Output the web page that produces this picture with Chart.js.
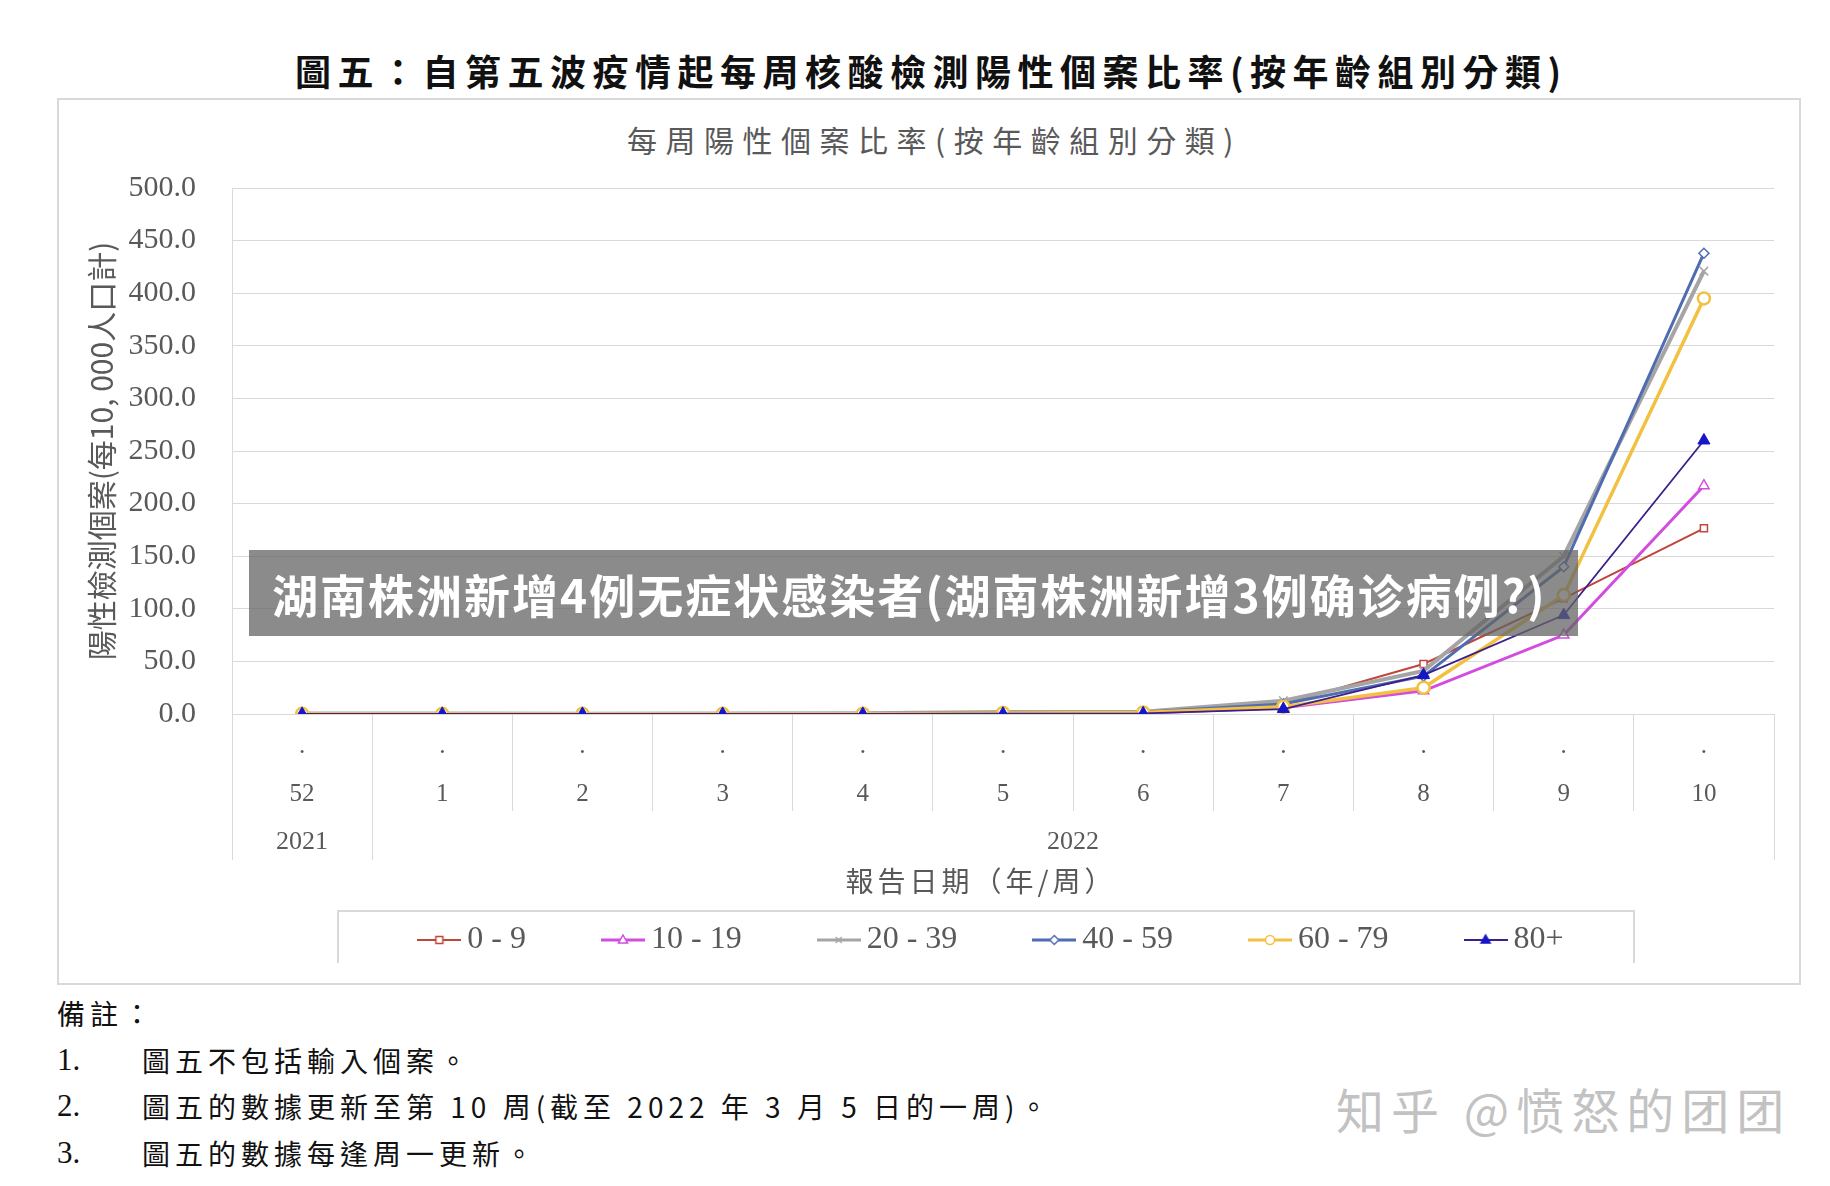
<!DOCTYPE html>
<html>
<head>
<meta charset="utf-8">
<script src="https://cdn.jsdelivr.net/npm/chart.js@4.4.1/dist/chart.umd.min.js"></script>
<style>
  body { margin: 0; background: #fff; }
  #page { position: relative; width: 1830px; height: 1186px; overflow: hidden; font-family: "Noto Sans CJK TC", sans-serif; }
  #mainTitle { position: absolute; left: 295px; top: 46px; font-size: 36px; line-height: 48px; font-weight: 700; letter-spacing: 6.5px; color: #111; white-space: nowrap; }
  #box { position: absolute; left: 57px; top: 98px; width: 1744px; height: 887px; border: 2px solid #d9d9d9; box-sizing: border-box; }
  #innerTitle { position: absolute; left: 627px; top: 120px; font-size: 30px; line-height: 38px; letter-spacing: 8.5px; color: #595959; white-space: nowrap; }
  #wrap { position: absolute; left: 57px; top: 98px; width: 1744px; height: 865px; }
  .note { position: absolute; font-size: 28px; line-height: 36px; color: #111; white-space: nowrap; letter-spacing: 5px; }
  .num { position: absolute; left: 57px; font-family: "Liberation Serif", serif; font-size: 31px; line-height: 36px; color: #111; }
  #banner { position: absolute; left: 249px; top: 550px; width: 1329px; height: 86px; background: rgba(100,100,100,0.75);
    color: #fff; font-family: "Noto Sans CJK SC", sans-serif; font-weight: 700; font-size: 46px; line-height: 86px;
    letter-spacing: 2px; padding-left: 23px; box-sizing: border-box; white-space: nowrap; z-index: 5; }
  #mark { position: absolute; left: 1336px; top: 1079px; font-family: "Noto Sans CJK SC", sans-serif; font-size: 48px; line-height: 58px;
    letter-spacing: 7px; color: #c2c2c2; white-space: nowrap; }
</style>
</head>
<body>
<div id="page">
  <div id="mainTitle">圖五：自第五波疫情起每周核酸檢測陽性個案比率(按年齡組別分類)</div>
  <div id="box"></div>
  <div id="innerTitle">每周陽性個案比率(按年齡組別分類)</div>
  <div id="wrap"><canvas id="chart"></canvas></div>
  <div class="note" style="left:57px;top:995px;">備註：</div>
  <div class="num" style="top:1042px;">1.</div>
  <div class="note" style="left:142px;top:1042px;">圖五不包括輸入個案。</div>
  <div class="num" style="top:1088px;">2.</div>
  <div class="note" style="left:142px;top:1088px;">圖五的數據更新至第 10 周(截至 2022 年 3 月 5 日的一周)。</div>
  <div class="num" style="top:1135px;">3.</div>
  <div class="note" style="left:142px;top:1135px;">圖五的數據每逢周一更新。</div>
  <div id="banner">湖南株洲新增4例无症状感染者(湖南株洲新增3例确诊病例?)</div>
  <div id="mark">知乎 @愤怒的团团</div>
</div>
<script>
// report weeks (2021 wk 52, then 2022 wk 1-10)
const weeks = ['52', '1', '2', '3', '4', '5', '6', '7', '8', '9', '10'];
const yearLabels = ['2021', '2022'];
const yearFirst = [0, 1];
const yearLast = [0, 10];

const age0to9   = [0.2, 0.2, 0.1, 0.1, 0.2, 0.5, 1.0, 9.5, 47.5, 110, 176.5];
const age10to19 = [0.2, 0.2, 0.1, 0.1, 0.1, 0.4, 0.8, 6.0, 22, 75, 217];
const age20to39 = [0.5, 0.4, 0.3, 0.4, 0.6, 1.8, 2.2, 12.6, 41, 150, 421];
const age40to59 = [0.3, 0.3, 0.2, 0.3, 0.4, 1.2, 1.6, 9.5, 36, 140, 438];
const age60to79 = [0.2, 0.2, 0.2, 0.2, 0.3, 1.0, 1.5, 7.0, 25, 113, 395];
const age80up   = [0.1, 0.1, 0.1, 0.1, 0.1, 0.3, 0.6, 4.7, 37, 94, 260];

const seriesNames = ['0 - 9', '10 - 19', '20 - 39', '40 - 59', '60 - 79', '80+'];
const yMin = 0, yMax = 500, yStep = 50;
const yTitle = '陽性檢測個案(每10, 000人口計)';
const xTitle = '報告日期（年/周）';

Chart.defaults.font.family = '"Liberation Serif", serif';

function makeIcon(color, lineW, marker, fill, markColor) {
  const c = document.createElement('canvas');
  c.width = 44; c.height = 20;
  const g = c.getContext('2d');
  g.strokeStyle = color; g.lineWidth = lineW;
  g.beginPath(); g.moveTo(0, 10); g.lineTo(44, 10); g.stroke();
  g.strokeStyle = markColor || color; g.fillStyle = fill; g.lineWidth = 1.5;
  g.beginPath();
  if (marker === 'rect') g.rect(18.5, 6.5, 7, 7);
  if (marker === 'triangle') { g.moveTo(22, 5); g.lineTo(26.5, 13); g.lineTo(17.5, 13); g.closePath(); }
  if (marker === 'crossRot') { g.moveTo(19, 7); g.lineTo(25, 13); g.moveTo(25, 7); g.lineTo(19, 13); }
  if (marker === 'rectRot') { g.moveTo(22, 5.5); g.lineTo(26.5, 10); g.lineTo(22, 14.5); g.lineTo(17.5, 10); g.closePath(); }
  if (marker === 'circle') g.arc(22, 10, 4.5, 0, Math.PI * 2);
  if (marker !== 'crossRot') g.fill();
  g.stroke();
  return c;
}

const styles = [
  { color: '#c0463c', width: 2,   marker: 'rect',     radius: 5, fill: '#fff', pw: 1.5, order: 6 },
  { color: '#d24ce0', width: 3,   marker: 'triangle', radius: 6, fill: '#fff', pw: 1.5, order: 5 },
  { color: '#a5a5a5', width: 4,   marker: 'crossRot', radius: 6, fill: '#a5a5a5', pw: 1.5, order: 4 },
  { color: '#4f6db0', width: 3,   marker: 'rectRot',  radius: 5, fill: '#fff', pw: 1.5, order: 3 },
  { color: '#f3c141', width: 3.5, marker: 'circle',   radius: 6, fill: '#fff', pw: 2.5, order: 2 },
  { color: '#3c1e8c', width: 1.8, marker: 'triangle', radius: 7, fill: '#1616c8', pw: 1, order: 1, mark: '#1616c8' },
];
const seriesData = [age0to9, age10to19, age20to39, age40to59, age60to79, age80up];
const icons = styles.map(s => makeIcon(s.color, Math.min(s.width, 3), s.marker, s.fill, s.mark));

const framePlugin = {
  id: 'frame',
  afterLayout(chart) {
    // legend sits right of centre in the original
    const lg = chart.legend;
    lg.left += 80; lg.right += 80;
    lg.top += 3; lg.bottom += 3;
  },
  afterDraw(chart) {
    const { ctx, chartArea: area, scales: { x } } = chart;
    ctx.save();
    ctx.strokeStyle = '#d9d9d9';
    ctx.lineWidth = 1;
    const split = (x.getPixelForValue(0) + x.getPixelForValue(1)) / 2;
    [area.left, split, area.right].forEach(px => {
      const p = Math.round(px) + 0.5;
      ctx.beginPath(); ctx.moveTo(p, area.bottom); ctx.lineTo(p, area.bottom + 146); ctx.stroke();
    });
    ctx.fillStyle = '#595959';
    ctx.textAlign = 'center';
    ctx.textBaseline = 'middle';
    ctx.font = '26px "Liberation Serif"';
    yearLabels.forEach((lab, i) => {
      const cx = (x.getPixelForValue(yearFirst[i]) + x.getPixelForValue(yearLast[i])) / 2;
      ctx.fillText(lab, cx, area.bottom + 128);
    });
    ctx.font = '28px "Noto Sans CJK TC"';
    ctx.letterSpacing = '4px';
    ctx.fillText(xTitle, (area.left + area.right) / 2 - 22, area.bottom + 167);
    ctx.letterSpacing = '0px';
    const boxes = chart.legend.legendHitBoxes;
    if (boxes && boxes.length) {
      const first = boxes[0], last = boxes[boxes.length - 1];
      const cy = first.top + first.height / 2;
      const l = first.left - 89, r = last.left + last.width + 71;
      ctx.lineWidth = 2;
      ctx.strokeRect(Math.round(l), Math.round(cy - 29.5), Math.round(r - l), 59);
    }
    ctx.restore();
  }
};

new Chart(document.getElementById('chart').getContext('2d'), {
  type: 'line',
  data: {
    labels: weeks.map(w => ['.', w]),
    datasets: seriesNames.map((name, i) => ({
      label: name,
      data: seriesData[i],
      borderColor: styles[i].color,
      backgroundColor: styles[i].color,
      borderWidth: styles[i].width,
      tension: 0,
      fill: false,
      order: styles[i].order,
      pointStyle: styles[i].marker,
      pointRadius: styles[i].radius,
      pointBackgroundColor: styles[i].fill,
      pointBorderColor: styles[i].mark || styles[i].color,
      pointBorderWidth: styles[i].pw,
    })),
  },
  options: {
    animation: false,
    responsive: true,
    maintainAspectRatio: false,
    layout: { padding: { left: 0, right: 27, top: 90, bottom: 0 } },
    scales: {
      x: {
        offset: true,
        ticks: { color: '#595959', padding: -89, autoSkip: false, maxRotation: 0, font: { size: 25, lineHeight: 1.92 } },
        grid: { offset: true, drawOnChartArea: false, tickLength: 97, color: '#d9d9d9' },
        border: { display: true, color: '#d9d9d9' },
        afterFit: s => { s.height = 122; },
      },
      y: {
        min: yMin,
        max: yMax,
        ticks: { stepSize: yStep, padding: 36, color: '#595959', font: { size: 30 }, callback: v => v.toFixed(1) },
        grid: { color: '#d9d9d9', drawTicks: false },
        border: { display: true, color: '#d9d9d9' },
        title: {
          display: true, text: yTitle, color: '#595959',
          font: { family: '"Noto Sans CJK TC"', size: 30 },
          padding: { top: 27, bottom: 0 },
        },
        afterFit: s => { s.width = 175; },
      },
    },
    plugins: {
      title: { display: false },
      tooltip: { enabled: false },
      legend: {
        position: 'bottom',
        labels: {
          usePointStyle: true,
          pointStyleWidth: 24,
          padding: 85,
          color: '#595959',
          font: { size: 32 },
          generateLabels: chart => Chart.defaults.plugins.legend.labels.generateLabels(chart)
            .map(it => Object.assign(it, { pointStyle: icons[it.datasetIndex] })),
          sort: (a, b) => a.datasetIndex - b.datasetIndex,
        },
      },
    },
  },
  plugins: [framePlugin],
});
</script>
</body>
</html>
